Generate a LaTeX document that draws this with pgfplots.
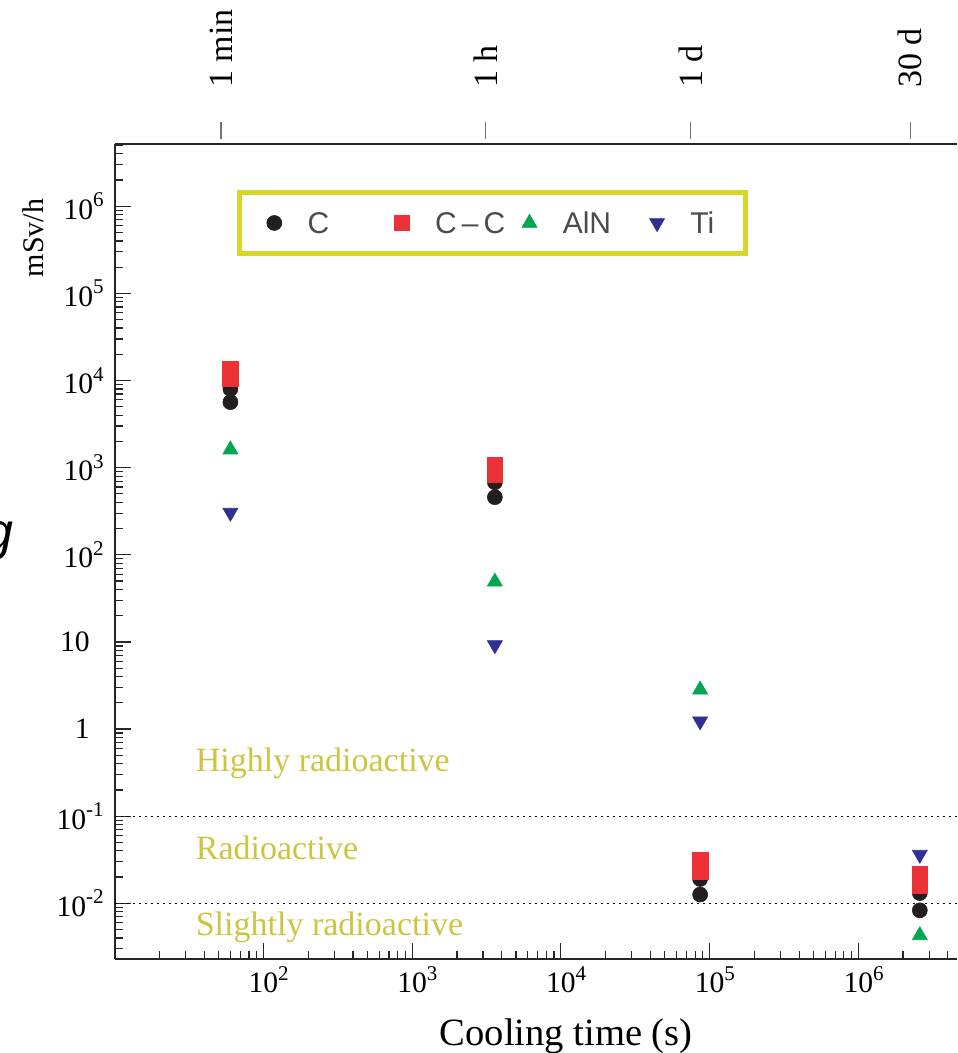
\documentclass[border=0pt]{standalone}
\usepackage{fontspec}
\setmainfont{Liberation Serif}
\setsansfont{Liberation Sans}
\usepackage{pgfplots}
\pgfplotsset{compat=1.18}
\definecolor{cC}{RGB}{35,31,32}
\definecolor{cCC}{RGB}{237,50,55}
\definecolor{cAlN}{RGB}{0,166,81}
\definecolor{cTi}{RGB}{46,49,146}
\definecolor{lyellow}{RGB}{216,214,40}
\definecolor{ltext}{RGB}{205,196,64}
\newcommand\sups[1]{\raisebox{0.42em}{\fontsize{10.5}{10.5}\selectfont #1}}
\newcommand\tfont{\fontsize{14.8}{16}\selectfont}
\begin{document}
\begin{tikzpicture}
\useasboundingbox (-57.35pt,-46.85pt) rectangle (421.15pt,479.65pt);
\begin{axis}[
  at={(0pt,0pt)}, anchor=south west,
  scale only axis, width=421.15pt, height=407.65pt,
  xmode=log, ymode=log,
  xmin=10, xmax=4.61e6, ymin=2.275e-3, ymax=5.19e6,
  clip=false,
  axis y line*=left,
  axis line style={-, line width=1pt, black!85},
  tick align=inside,
  xtick pos=left, ytick pos=left,
  major tick length=8pt, minor tick length=4pt,
  tick style={black!85, line width=0.6pt},
  xtick={1e2,1e3,1e4,1e5,1e6},
  xticklabels={10\rlap{\sups{2}},10\rlap{\sups{3}},10\rlap{\sups{4}},10\rlap{\sups{5}},10\rlap{\sups{6}}},
  minor xtick={20,30,40,50,60,70,80,90,200,300,400,500,600,700,800,900,2000,3000,4000,5000,6000,7000,8000,9000,2e4,3e4,4e4,5e4,6e4,7e4,8e4,9e4,2e5,3e5,4e5,5e5,6e5,7e5,8e5,9e5,2e6,3e6,4e6},
  ytick={1e-2,1e-1,1,10,1e2,1e3,1e4,1e5,1e6},
  yticklabels={10\sups{-2},10\sups{-1},1\rule{7pt}{0pt},10\rule{7pt}{0pt},10\sups{2},10\sups{3},10\sups{4},10\sups{5},10\sups{6}},
  minor ytick={3e-3,4e-3,5e-3,6e-3,7e-3,8e-3,9e-3,2e-2,3e-2,4e-2,5e-2,6e-2,7e-2,8e-2,9e-2,0.2,0.3,0.4,0.5,0.6,0.7,0.8,0.9,2,3,4,5,6,7,8,9,20,30,40,50,60,70,80,90,200,300,400,500,600,700,800,900,2e3,3e3,4e3,5e3,6e3,7e3,8e3,9e3,2e4,3e4,4e4,5e4,6e4,7e4,8e4,9e4,2e5,3e5,4e5,5e5,6e5,7e5,8e5,9e5,2e6,3e6,4e6,5e6},
  ticklabel style={font=\tfont},
  yticklabel style={xshift=-2pt},
  legend columns=4,
  legend image code/.code={\path (-12.25pt,0pt) (16.5pt,0pt); \draw[#1] plot coordinates {(0pt,0pt)};},
  legend style={at={(0.1452,0.9436)}, anchor=north west, draw=lyellow, line width=2.5pt, fill=white,
    inner xsep=5pt, inner ysep=9.85pt, text=black!70,
    font=\sffamily\fontsize{15}{15}\selectfont,
    nodes={inner sep=0pt, text height=10.8pt, text depth=0pt},
    /tikz/every even column/.append style={column sep=2.75pt}},
]
\addplot[black, dash pattern=on 1pt off 2pt, line width=0.6pt, forget plot] coordinates {(10,0.1) (4.61e6,0.1)};
\addplot[black, dash pattern=on 1pt off 2pt, line width=0.6pt, forget plot] coordinates {(10,0.01) (4.61e6,0.01)};
\addplot[only marks, mark=*, mark size=3.75pt, line width=0.3pt, color=cC, mark options={fill=cC}]
  coordinates {(60,8.0e3) (60,5.65e3) (3600,680) (3600,458) (86400,0.019) (86400,0.0126) (2.592e6,0.0131) (2.592e6,0.0083)};
\addlegendentry{\makebox[32pt][l]{C}}
\addplot[only marks, mark=square*, mark size=3.9pt, line width=0.3pt, color=cCC, mark options={fill=cCC}]
  coordinates {(60,1.34e4) (60,1.05e4) (3600,1070) (3600,832) (86400,0.031) (86400,0.0232) (2.592e6,0.0214) (2.592e6,0.016)};
\addlegendentry{\makebox[32pt][l]{C\,--\,C}}
\addplot[only marks, mark=triangle*, mark size=4.33pt, line width=0.3pt, color=cAlN, mark options={fill=cAlN}]
  coordinates {(60,1610) (3600,49) (86400,2.83) (2.592e6,0.00428)};
\addlegendentry{\makebox[32pt][l]{AlN}}
\addplot[only marks, mark=triangle*, mark size=4.33pt, line width=0.3pt, color=cTi, mark options={fill=cTi, rotate=180}]
  coordinates {(60,305) (3600,9.2) (86400,1.23) (2.592e6,0.0362)};
\addlegendentry{\makebox[22.75pt][l]{Ti}}
\node[anchor=base west, inner sep=0pt, text=ltext, font=\fontsize{17}{17}\selectfont] at (axis cs:34.9,0.322) {Highly radioactive};
\node[anchor=base west, inner sep=0pt, text=ltext, font=\fontsize{17}{17}\selectfont] at (axis cs:34.9,0.0314) {Radioactive};
\node[anchor=base west, inner sep=0pt, text=ltext, font=\fontsize{17}{17}\selectfont] at (axis cs:34.9,0.00432) {Slightly radioactive};
\node[rotate=90, inner sep=0pt, font=\fontsize{15}{15}\selectfont] at (axis description cs:-0.097,0.8847) {mSv/h};
\node[anchor=base, inner sep=0pt, font=\fontsize{19.3}{20}\selectfont] at (axis description cs:0.536,-0.106) {Cooling time (s)};
\end{axis}
\begin{axis}[
  at={(-4.75pt,0pt)}, anchor=south west,
  scale only axis, width=421.15pt, height=418.65pt,
  xmode=log, xmin=10, xmax=4.61e6, ymin=0, ymax=1,
  hide y axis,
  axis x line*=top,
  x axis line style={draw=none},
  xtick={60,3600,86400,2592000},
  xticklabels={1 min,1 h,1 d,30 d},
  xtick align=inside,
  major tick length=8.5pt, minor tick length=0pt,
  tick style={black!55, line width=0.6pt},
  xticklabel style={rotate=90, anchor=west, inner sep=0pt, font=\fontsize{17}{17}\selectfont},
  xticklabel shift=17pt,
]
\addplot[draw=none] coordinates {(100,0.5)};
\end{axis}
\node[anchor=base east, inner sep=0pt, font=\sffamily\itshape\fontsize{26}{26}\selectfont] at (-50.35pt,204.65pt) {g};
\end{tikzpicture}
\end{document}
